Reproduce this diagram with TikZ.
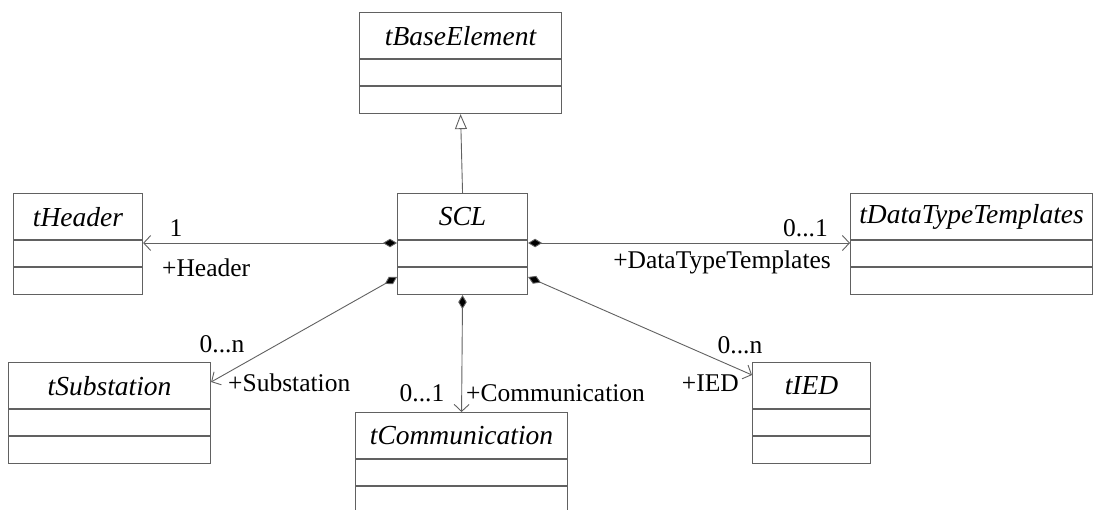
\documentclass[tikz,border=0pt]{standalone}
\usepackage{fontspec}
\setmainfont{Liberation Serif}
\usetikzlibrary{arrows.meta,calc}

\tikzset{
  x=1pt, y=-1pt,
  classbox/.style={draw=black!62, line width=1.1pt, rectangle, inner sep=0pt, anchor=north west},
  classtitle/.style={font=\fontsize{27.5}{27.5}\selectfont\itshape, inner sep=0pt},
  divider/.style={draw=black!62, line width=1.1pt},
  link/.style={draw=black!62, line width=0.9pt},
  role/.style={font=\fontsize{25.5}{25.5}\selectfont, inner sep=0pt},
  comp/.style={link, {Diamond[length=14pt,width=8.5pt,fill=black]}-{Straight Barb[length=7pt,width=15pt,line width=0.9pt]}},
  gen/.style={link, -{Triangle[open,length=15pt,width=12pt,line width=0.9pt,fill=white]}},
}

% class box: name, left, top, width, title
\newcommand{\umlclass}[5]{%
  \node[classbox, minimum width=#4, minimum height=101] (#1) at (#2,#3) {};
  \node[classtitle] (#1-title) at ($(#1.north)+(0,24)$) {#5};
  \draw[divider] ($(#1.north west)+(0,47)$) -- ($(#1.north east)+(0,47)$);
  \draw[divider] ($(#1.north west)+(0,74)$) -- ($(#1.north east)+(0,74)$);
}

\begin{document}
\begin{tikzpicture}
\path[use as bounding box, fill=white] (0,0) rectangle (1099,509);

\umlclass{base}{359}{12}{202}{tBaseElement}
\umlclass{scl}{397}{193}{130}{SCL}
\umlclass{hdr}{13}{193}{129}{tHeader}
\umlclass{dtt}{850}{193}{242}{tDataTypeTemplates}
\umlclass{sub}{8}{362}{202}{tSubstation}
\umlclass{com}{355}{412}{212}{tCommunication}
\umlclass{ied}{752}{362}{118}{tIED}

% anchor points on the boxes
\coordinate (scl-l1) at ($(scl.north west)+(0,50)$);
\coordinate (scl-r1) at ($(scl.north east)+(0,50)$);
\coordinate (scl-l2) at ($(scl.north west)+(0,84)$);
\coordinate (scl-r2) at ($(scl.north east)+(0,84)$);
\coordinate (hdr-r) at ($(hdr.north east)+(0,50)$);
\coordinate (dtt-l) at ($(dtt.north west)+(0,50)$);
\coordinate (sub-r) at ($(sub.north east)+(0,20)$);
\coordinate (ied-l) at ($(ied.north west)+(0,13)$);

% generalisation
\draw[gen] (scl.north) -- (base.south);

% compositions
\draw[comp] (scl-l1) -- (hdr-r);
\draw[comp] (scl-r1) -- (dtt-l);
\draw[comp] (scl-l2) -- (sub-r);
\draw[comp] (scl.south) -- (com.north);
\draw[comp] (scl-r2) -- (ied-l);

% role names and multiplicities
\node[role] (m-hdr) at (176,228) {1};
\node[role, anchor=west] (r-hdr) at (162,268) {+Header};
\node[role, anchor=east] (m-dtt) at (828,228) {0...1};
\node[role, anchor=east] (r-dtt) at (831,262) {+DataTypeTemplates};
\node[role] (m-sub) at (222,344) {0...n};
\node[role, anchor=west] (r-sub) at (228,383) {+Substation};
\node[role] (m-com) at (422,393) {0...1};
\node[role, anchor=west] (r-com) at (466,393) {+Communication};
\node[role] (m-ied) at (740,345) {0...n};
\node[role, anchor=east] (r-ied) at (739,383) {+IED};
\end{tikzpicture}
\end{document}
